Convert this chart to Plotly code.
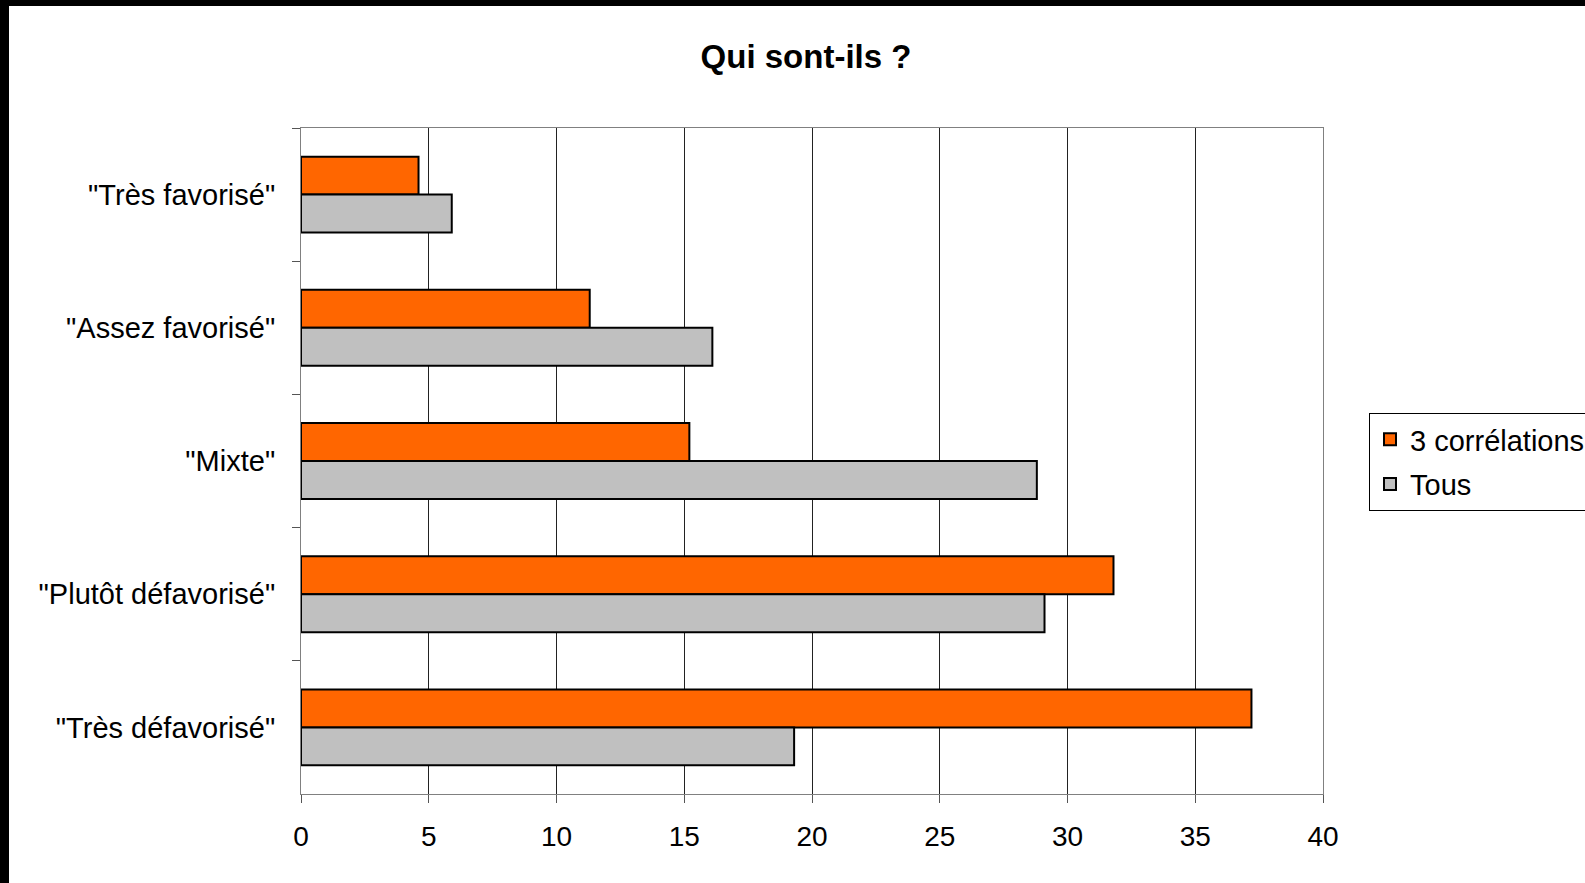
import plotly.graph_objects as go

# categories, top to bottom
categories = ['"Très favorisé"', '"Assez favorisé"', '"Mixte"',
              '"Plutôt défavorisé"', '"Très défavorisé"']
correlations = [4.6, 11.3, 15.2, 31.8, 37.2]
tous = [5.9, 16.1, 28.8, 29.1, 19.3]
x_ticks = [0, 5, 10, 15, 20, 25, 30, 35, 40]

FONT = "Liberation Sans, Arial, sans-serif"
W, H = 1585, 883
L, R, T, B = 301, 262, 128, 89

fig = go.Figure()
fig.add_trace(go.Bar(
    name="3 corrélations", y=categories, x=correlations, orientation="h",
    marker=dict(color="#FF6600", line=dict(color="black", width=2)),
    legendgroup="a",
))
fig.add_trace(go.Bar(
    name="Tous", y=categories, x=tous, orientation="h",
    marker=dict(color="#C0C0C0", line=dict(color="black", width=2)),
    legendgroup="b",
))

pw = W - L - R
ph = H - T - B
fig.update_layout(
    width=W, height=H,
    barmode="group", bargap=0.43, bargroupgap=0,
    paper_bgcolor="white", plot_bgcolor="white",
    font=dict(family=FONT, color="black", size=28),
    margin=dict(l=L, r=R, t=T, b=B, autoexpand=False),
    title=dict(text="<b>Qui sont-ils ?</b>", x=806 / W, xanchor="center",
               y=1 - 56 / H, yanchor="middle",
               font=dict(family=FONT, size=33, color="black")),
    legend=dict(x=(1369 - L) / pw, xanchor="left", y=(H - B - 413) / ph, yanchor="top",
                bordercolor="black", borderwidth=1, bgcolor="white",
                font=dict(family=FONT, size=29), traceorder="grouped",
                tracegroupgap=4, itemwidth=30),
    xaxis=dict(range=[0, 40], tickvals=x_ticks, showgrid=True, gridcolor="#222222",
               gridwidth=1, showline=True, linecolor="#808080", linewidth=1,
               mirror=True, ticks="outside", ticklen=8, tickcolor="#555555",
               ticklabelstandoff=9, zeroline=False, tickfont=dict(size=28)),
    yaxis=dict(autorange="reversed", showline=True, linecolor="#808080", linewidth=1,
               mirror=True, ticks="outside", ticklen=8, tickcolor="#555555",
               tickson="boundaries", ticklabelstandoff=19, showgrid=False,
               tickfont=dict(size=29)),
    shapes=[
        dict(type="rect", xref="paper", yref="paper",
             x0=-L / pw - 0.1, x1=(9 - L) / pw, y0=-1, y1=2,
             fillcolor="black", line=dict(width=0)),
        dict(type="rect", xref="paper", yref="paper",
             x0=-1, x1=2, y0=(H - B - 6) / ph, y1=2,
             fillcolor="black", line=dict(width=0)),
    ],
)

fig.write_html("out.html", config={"displayModeBar": False},
               post_script="document.body.style.margin='0';")
